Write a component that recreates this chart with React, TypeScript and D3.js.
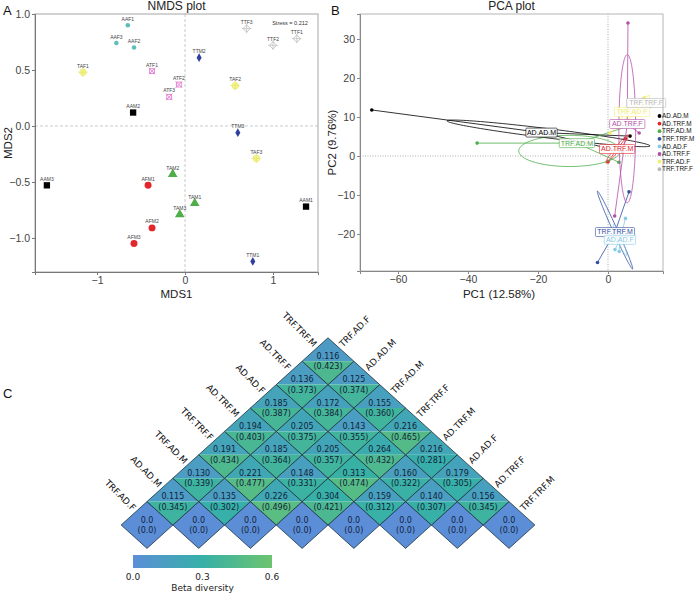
import React, { useRef, useEffect } from 'react';
import * as d3 from 'd3';

const W = 697;
const H = 594;

// ---- NMDS samples ----
const nmdsNames = ['AAF1', 'AAF2', 'AAF3', 'TAF1', 'TAF2', 'TAF3', 'ATF1', 'ATF2', 'ATF3', 'TTF1', 'TTF2', 'TTF3',
  'AAM1', 'AAM2', 'AAM3', 'AFM1', 'AFM2', 'AFM3', 'TAM1', 'TAM2', 'TAM3', 'TTM1', 'TTM2', 'TTM3'];
const nmdsX = [-0.65, -0.58, -0.78, -1.16, 0.57, 0.81, -0.375, -0.07, -0.18, 1.27, 1.0, 0.7,
  1.375, -0.59, -1.57, -0.42, -0.375, -0.58, 0.11, -0.14, -0.06, 0.77, 0.16, 0.6];
const nmdsY = [0.9, 0.7, 0.74, 0.48, 0.36, -0.29, 0.49, 0.37, 0.26, 0.78, 0.72, 0.87,
  -0.72, 0.12, -0.53, -0.53, -0.91, -1.05, -0.69, -0.43, -0.79, -1.21, 0.61, -0.06];
const nmdsXTicks = [-1, 0, 1];
const nmdsYTicks = [-1, -0.5, 0, 0.5, 1];

// ---- PCA groups ----
const pcaGroups = ['AD.AD.M', 'AD.TRF.M', 'TRF.AD.M', 'TRF.TRF.M', 'AD.AD.F', 'AD.TRF.F', 'TRF.AD.F', 'TRF.TRF.F'];
const pcaColors = ['#000000', '#e3262a', '#4fae4a', '#2f4e9f', '#86c9e3', '#b24fa8', '#f2ee6a', '#b8b8b8'];
const pcaPoints: [number, number][][] = [
  [[-67.5, 11.8], [6.3, 5.1], [4.2, 1.1]],
  [[0, -1.5], [5, 4.5], [2.8, 2.4]],
  [[-37.4, 3.3], [3.1, -1.6], [7.6, 8.2]],
  [[6, -9.2], [-3, -27.3], [3, -22]],
  [[5, -16], [2, -24], [3.2, -24.5]],
  [[5.7, 34.1], [8.9, 5.9], [1.9, -15.4]],
  [[10.3, 14.9], [9.7, 13.1], [0.6, 5.9]],
  [[12.3, 12.8], [11, 14], [9.4, 14]],
];
// ellipse: centre, major axis vector, minor axis vector (data units)
const pcaEllipses = [
  [-17, 5.8, 29, -3.2, 0, 1.2],
  [2.6, 1.8, 3.2, 3.6, -0.5, 0.4],
  [-11, 1.3, 14.5, 0, 0, 4],
  [2, -19, 5, -10, 0.8, -0.2],
  [3.4, -21.5, 1.8, -4, 0.6, 0.1],
  [5.5, 7, 0, 19, 2.4, 0],
  [6.9, 11.3, 5, 4.2, -0.6, 0.6],
  [10.9, 13.6, 1.6, -1.0, 0.4, 0.6],
];
const pcaXTicks = [-60, -40, -20, 0];
const pcaYTicks = [-20, -10, 0, 10, 20, 30];

// ---- Beta diversity heatmap ----
const hmLabels = ['TRF.AD.F', 'AD.AD.M', 'TRF.AD.M', 'TRF.TRF.F', 'AD.TRF.M', 'AD.AD.F', 'AD.TRF.F', 'TRF.TRF.M'];
const hmTop = [
  [0.115, 0.135, 0.226, 0.304, 0.159, 0.140, 0.156],
  [0.130, 0.221, 0.148, 0.313, 0.160, 0.179],
  [0.191, 0.185, 0.205, 0.264, 0.216],
  [0.194, 0.205, 0.143, 0.216],
  [0.185, 0.172, 0.155],
  [0.136, 0.125],
  [0.116],
];
const hmBottom = [
  [0.345, 0.302, 0.496, 0.421, 0.312, 0.307, 0.345],
  [0.339, 0.477, 0.331, 0.474, 0.322, 0.305],
  [0.434, 0.364, 0.357, 0.432, 0.281],
  [0.403, 0.375, 0.355, 0.465],
  [0.387, 0.384, 0.360],
  [0.373, 0.374],
  [0.423],
];
const cbTicks = [0, 0.3, 0.6];

const SANS = 'Liberation Sans, Arial, sans-serif';
const DEJA = 'DejaVu Sans, sans-serif';

function groupOf(name: string) {
  return name.slice(0, 3);
}

function drawMarker(g: any, grp: string, x: number, y: number) {
  const sym = (type: any, size: number) => d3.symbol().type(type).size(size)();
  const t = `translate(${x},${y})`;
  if (grp === 'AAM') g.append('path').attr('d', sym(d3.symbolSquare, 40)).attr('transform', t).attr('fill', '#000');
  else if (grp === 'AFM') g.append('path').attr('d', sym(d3.symbolCircle, 38)).attr('transform', t).attr('fill', '#e3262a');
  else if (grp === 'TAM') g.append('path').attr('d', sym(d3.symbolTriangle, 40)).attr('transform', t).attr('fill', '#4fae4a');
  else if (grp === 'TTM') g.append('path').attr('d', sym(d3.symbolDiamond, 22)).attr('transform', t).attr('fill', '#2f3f9f');
  else if (grp === 'AAF') g.append('path').attr('d', sym(d3.symbolCircle, 16)).attr('transform', t).attr('fill', '#5cbdbd');
  else if (grp === 'ATF') {
    g.append('path').attr('d', sym(d3.symbolSquare2, 30)).attr('transform', t).attr('fill', 'none').attr('stroke', '#e37ccf').attr('stroke-width', 0.9);
    g.append('path').attr('d', sym(d3.symbolTimes, 30)).attr('transform', t).attr('fill', 'none').attr('stroke', '#e37ccf').attr('stroke-width', 0.9);
  } else if (grp === 'TAF') {
    g.append('path').attr('d', sym(d3.symbolCircle, 34)).attr('transform', t).attr('fill', '#f4f49a').attr('stroke', '#ecec70').attr('stroke-width', 0.8);
    g.append('path').attr('d', sym(d3.symbolPlus, 30)).attr('transform', t).attr('fill', 'none').attr('stroke', '#e6e660').attr('stroke-width', 0.8);
  } else if (grp === 'TTF') {
    g.append('path').attr('d', sym(d3.symbolDiamond2, 34)).attr('transform', t).attr('fill', 'none').attr('stroke', '#c2c2c2').attr('stroke-width', 0.9);
    g.append('path').attr('d', sym(d3.symbolPlus, 30)).attr('transform', t).attr('fill', 'none').attr('stroke', '#c2c2c2').attr('stroke-width', 0.8);
  }
}

export default function App() {
  const svgRef = useRef<SVGSVGElement>(null);

  useEffect(() => {
    const svg = d3.select(svgRef.current);
    svg.selectAll('*').remove();

    // ================= Panel A: NMDS =================
    const A = { l: 35, r: 318, t: 14, b: 272 };
    const xA = d3.scaleLinear().domain([-1.705, 1.511]).range([A.l, A.r]);
    const yA = d3.scaleLinear().domain([-1.304, 1.0]).range([A.b, A.t]);
    const gA = svg.append('g');

    gA.append('line').attr('x1', xA(0)).attr('x2', xA(0)).attr('y1', A.t).attr('y2', A.b)
      .attr('stroke', '#bbb').attr('stroke-dasharray', '3,2').attr('stroke-width', 0.8);
    gA.append('line').attr('x1', A.l).attr('x2', A.r).attr('y1', yA(0)).attr('y2', yA(0))
      .attr('stroke', '#bbb').attr('stroke-dasharray', '3,2').attr('stroke-width', 0.8);
    gA.append('rect').attr('x', A.l).attr('y', A.t).attr('width', A.r - A.l).attr('height', A.b - A.t)
      .attr('fill', 'none').attr('stroke', '#a6a6a6').attr('stroke-width', 1);

    gA.append('g').attr('transform', `translate(0,${A.b})`)
      .call(d3.axisBottom(xA).tickValues(nmdsXTicks).tickFormat(d3.format('d')).tickSize(3).tickPadding(2))
      .call(g => g.select('.domain').attr('stroke', '#777'))
      .call(g => g.selectAll('.tick line').attr('stroke', '#777'))
      .call(g => g.selectAll('.tick text').attr('font-size', 10.5).attr('font-family', SANS).attr('fill', '#444')
        .text((d: any) => d < 0 ? `\u2212${Math.abs(d)}` : `${d}`));
    gA.append('g').attr('transform', `translate(${A.l},0)`)
      .call(d3.axisLeft(yA).tickValues(nmdsYTicks).tickSize(3).tickPadding(2))
      .call(g => g.select('.domain').attr('stroke', '#777'))
      .call(g => g.selectAll('.tick line').attr('stroke', '#777'))
      .call(g => g.selectAll('.tick text').attr('font-size', 10.5).attr('font-family', SANS).attr('fill', '#444')
        .text((d: any) => d < 0 ? `\u2212${Math.abs(d).toFixed(1)}` : d.toFixed(1)));

    gA.append('text').attr('x', (A.l + A.r) / 2).attr('y', 10).attr('text-anchor', 'middle')
      .attr('font-size', 12).attr('font-family', SANS).attr('fill', '#222').text('NMDS plot');
    gA.append('text').attr('x', (A.l + A.r) / 2).attr('y', 298).attr('text-anchor', 'middle')
      .attr('font-size', 11.5).attr('font-family', SANS).attr('fill', '#222').text('MDS1');
    gA.append('text').attr('transform', `translate(12,${(A.t + A.b) / 2}) rotate(-90)`).attr('text-anchor', 'middle')
      .attr('font-size', 11.5).attr('font-family', SANS).attr('fill', '#222').text('MDS2');
    gA.append('text').attr('x', 3).attr('y', 15).attr('font-size', 13).attr('font-family', SANS).attr('fill', '#111').text('A');
    gA.append('text').attr('x', 290).attr('y', 25).attr('text-anchor', 'middle')
      .attr('font-size', 5.5).attr('font-family', SANS).attr('fill', '#333').text('Stress = 0.212');

    nmdsNames.forEach((n, i) => {
      const px = xA(nmdsX[i]);
      const py = yA(nmdsY[i]);
      drawMarker(gA, groupOf(n), px, py);
      gA.append('text').attr('x', px).attr('y', py - 4.5).attr('text-anchor', 'middle')
        .attr('font-size', 5).attr('font-family', SANS).attr('fill', '#444').text(n);
    });

    // ================= Panel B: PCA =================
    const B = { l: 360, r: 663, t: 14, b: 271 };
    const xB = d3.scaleLinear().domain([-70.86, 15.71]).range([B.l, B.r]);
    const yB = d3.scaleLinear().domain([-29.49, 36.41]).range([B.b, B.t]);
    const gB = svg.append('g');

    gB.append('line').attr('x1', xB(0)).attr('x2', xB(0)).attr('y1', B.t).attr('y2', B.b)
      .attr('stroke', '#999').attr('stroke-dasharray', '1,1.5').attr('stroke-width', 0.8);
    gB.append('line').attr('x1', B.l).attr('x2', B.r).attr('y1', yB(0)).attr('y2', yB(0))
      .attr('stroke', '#999').attr('stroke-dasharray', '1,1.5').attr('stroke-width', 0.8);

    const line = d3.line<[number, number]>().x(d => xB(d[0])).y(d => yB(d[1])).curve(d3.curveLinearClosed);
    pcaGroups.forEach((gname, i) => {
      const col = pcaColors[i];
      const [cx, cy, ax, ay, bx, by] = pcaEllipses[i];
      const pts: [number, number][] = d3.range(0, 2 * Math.PI, Math.PI / 60)
        .map(t => [cx + ax * Math.cos(t) + bx * Math.sin(t), cy + ay * Math.cos(t) + by * Math.sin(t)]);
      gB.append('path').attr('d', line(pts)).attr('fill', 'none').attr('stroke', col).attr('stroke-width', 0.8);
      const mx = d3.mean(pcaPoints[i], d => d[0])!;
      const my = d3.mean(pcaPoints[i], d => d[1])!;
      pcaPoints[i].forEach(p => {
        gB.append('line').attr('x1', xB(mx)).attr('y1', yB(my)).attr('x2', xB(p[0])).attr('y2', yB(p[1]))
          .attr('stroke', col).attr('stroke-width', 0.8);
      });
      pcaPoints[i].forEach(p => {
        gB.append('circle').attr('cx', xB(p[0])).attr('cy', yB(p[1])).attr('r', 1.8).attr('fill', col);
      });
    });
    pcaGroups.forEach((gname, i) => {
      const col = pcaColors[i];
      const mx = d3.mean(pcaPoints[i], d => d[0])!;
      const my = d3.mean(pcaPoints[i], d => d[1])!;
      const w = gname.length * 3.9 + 4;
      const lg = gB.append('g').attr('transform', `translate(${xB(mx)},${yB(my)})`);
      lg.append('rect').attr('x', -w / 2).attr('y', -4.5).attr('width', w).attr('height', 9).attr('rx', 1)
        .attr('fill', 'white').attr('fill-opacity', 0.9).attr('stroke', col).attr('stroke-width', 0.6);
      lg.append('text').attr('text-anchor', 'middle').attr('dy', '0.35em').attr('font-size', 7)
        .attr('font-family', SANS).attr('fill', col).text(gname);
    });

    gB.append('rect').attr('x', B.l).attr('y', B.t).attr('width', B.r - B.l).attr('height', B.b - B.t)
      .attr('fill', 'none').attr('stroke', '#b5b5b5').attr('stroke-width', 1);
    gB.append('g').attr('transform', `translate(0,${B.b})`)
      .call(d3.axisBottom(xB).tickValues(pcaXTicks).tickSize(3).tickPadding(2))
      .call(g => g.select('.domain').attr('stroke', '#888'))
      .call(g => g.selectAll('.tick line').attr('stroke', '#888'))
      .call(g => g.selectAll('.tick text').attr('font-size', 10.5).attr('font-family', SANS).attr('fill', '#444')
        .text((d: any) => d < 0 ? `\u2212${Math.abs(d)}` : `${d}`));
    gB.append('g').attr('transform', `translate(${B.l},0)`)
      .call(d3.axisLeft(yB).tickValues(pcaYTicks).tickSize(3).tickPadding(2))
      .call(g => g.select('.domain').attr('stroke', '#888'))
      .call(g => g.selectAll('.tick line').attr('stroke', '#888'))
      .call(g => g.selectAll('.tick text').attr('font-size', 10.5).attr('font-family', SANS).attr('fill', '#444')
        .text((d: any) => d < 0 ? `\u2212${Math.abs(d)}` : `${d}`));

    gB.append('text').attr('x', (B.l + B.r) / 2).attr('y', 10).attr('text-anchor', 'middle')
      .attr('font-size', 12).attr('font-family', SANS).attr('fill', '#222').text('PCA plot');
    gB.append('text').attr('x', 499).attr('y', 298).attr('text-anchor', 'middle')
      .attr('font-size', 11.5).attr('font-family', SANS).attr('fill', '#222').text('PC1 (12.58%)');
    gB.append('text').attr('transform', `translate(336,${(B.t + B.b) / 2}) rotate(-90)`).attr('text-anchor', 'middle')
      .attr('font-size', 11.5).attr('font-family', SANS).attr('fill', '#222').text('PC2 (9.76%)');
    gB.append('text').attr('x', 331).attr('y', 15).attr('font-size', 13).attr('font-family', SANS).attr('fill', '#111').text('B');

    // legend
    pcaGroups.forEach((gname, i) => {
      const ly = 116 + i * 7.6;
      gB.append('circle').attr('cx', 659.5).attr('cy', ly).attr('r', 1.9).attr('fill', pcaColors[i]);
      gB.append('text').attr('x', 662).attr('y', ly).attr('dy', '0.35em').attr('font-size', 6.4)
        .attr('font-family', SANS).attr('fill', '#111').text(gname);
    });

    // ================= Panel C: heatmap =================
    const gC = svg.append('g');
    const xD = d3.scaleLinear().domain([0, hmLabels.length - 1]).range([147, 509]);
    const hw = (xD(1) - xD(0)) / 2;
    const hh = 23.4;
    const baseY = 525;
    const color = d3.scaleLinear<string>().domain([0, 0.3, 0.6]).range(['#5c8ed8', '#36b0a8', '#6dc46e']).clamp(true);

    const cells: { a: number; b: number; top: number; bot: number; diag: boolean }[] = [];
    hmLabels.forEach((_, k) => cells.push({ a: k, b: k, top: 0, bot: 0, diag: true }));
    hmTop.forEach((row, di) => row.forEach((v, a) => cells.push({ a, b: a + di + 1, top: v, bot: hmBottom[di][a], diag: false })));

    cells.forEach(c => {
      const cx = (xD(c.a) + xD(c.b)) / 2;
      const cy = baseY - (c.b - c.a) * hh;
      gC.append('path').attr('d', `M${cx - hw},${cy}L${cx},${cy - hh}L${cx + hw},${cy}Z`).attr('fill', color(c.top));
      gC.append('path').attr('d', `M${cx - hw},${cy}L${cx},${cy + hh}L${cx + hw},${cy}Z`).attr('fill', color(c.bot));
      gC.append('path').attr('d', `M${cx - hw},${cy}L${cx},${cy - hh}L${cx + hw},${cy}L${cx},${cy + hh}Z`)
        .attr('fill', 'none').attr('stroke', '#1d3540').attr('stroke-width', 0.8);
      const t1 = c.diag ? '0.0' : c.top.toFixed(3);
      const t2 = c.diag ? '(0.0)' : `(${c.bot.toFixed(3)})`;
      gC.append('text').attr('x', cx).attr('y', cy - 5.3).attr('dy', '0.35em').attr('text-anchor', 'middle')
        .attr('font-size', 8).attr('font-family', DEJA).attr('fill', '#13233a').text(t1);
      gC.append('text').attr('x', cx).attr('y', cy + 5.3).attr('dy', '0.35em').attr('text-anchor', 'middle')
        .attr('font-size', 8).attr('font-family', DEJA).attr('fill', '#13233a').text(t2);
    });

    hmLabels.forEach((lab, k) => {
      // left side: edge of cell (0,k)
      const lx = (xD(0) + xD(k)) / 2 - hw / 2 - 2;
      const ly = baseY - k * hh - hh / 2 - 2;
      gC.append('text').attr('transform', `translate(${lx},${ly}) rotate(45)`).attr('text-anchor', 'end')
        .attr('font-size', 9).attr('font-family', DEJA).attr('fill', '#111').text(lab);
      // right side: edge of cell (k,last)
      const n = hmLabels.length - 1;
      const rx = (xD(k) + xD(n)) / 2 + hw / 2 + 2;
      const ry = baseY - (n - k) * hh - hh / 2 - 2;
      gC.append('text').attr('transform', `translate(${rx},${ry}) rotate(-45)`).attr('text-anchor', 'start')
        .attr('font-size', 9).attr('font-family', DEJA).attr('fill', '#111').text(lab);
    });

    // colour bar
    const defs = svg.append('defs');
    const grad = defs.append('linearGradient').attr('id', 'cbgrad');
    d3.range(0, 1.0001, 0.1).forEach(t => {
      grad.append('stop').attr('offset', `${t * 100}%`).attr('stop-color', color(t * 0.6));
    });
    const xCb = d3.scaleLinear().domain([0, 0.6]).range([133, 272]);
    gC.append('rect').attr('x', 133).attr('y', 555).attr('width', 139).attr('height', 13).attr('fill', 'url(#cbgrad)');
    cbTicks.forEach(t => {
      gC.append('text').attr('x', xCb(t)).attr('y', 580).attr('text-anchor', 'middle')
        .attr('font-size', 9).attr('font-family', DEJA).attr('fill', '#222').text(t.toFixed(1));
    });
    gC.append('text').attr('x', xCb(0.3)).attr('y', 591).attr('text-anchor', 'middle')
      .attr('font-size', 9).attr('font-family', DEJA).attr('fill', '#222').text('Beta diversity');
    gC.append('text').attr('x', 3).attr('y', 398).attr('font-size', 13).attr('font-family', SANS).attr('fill', '#111').text('C');
  }, []);

  return (
    <svg ref={svgRef} width={W} height={H} viewBox={`0 0 ${W} ${H}`}
      style={{ display: 'block', position: 'absolute', left: 0, top: 0, background: 'white' }} />
  );
}
